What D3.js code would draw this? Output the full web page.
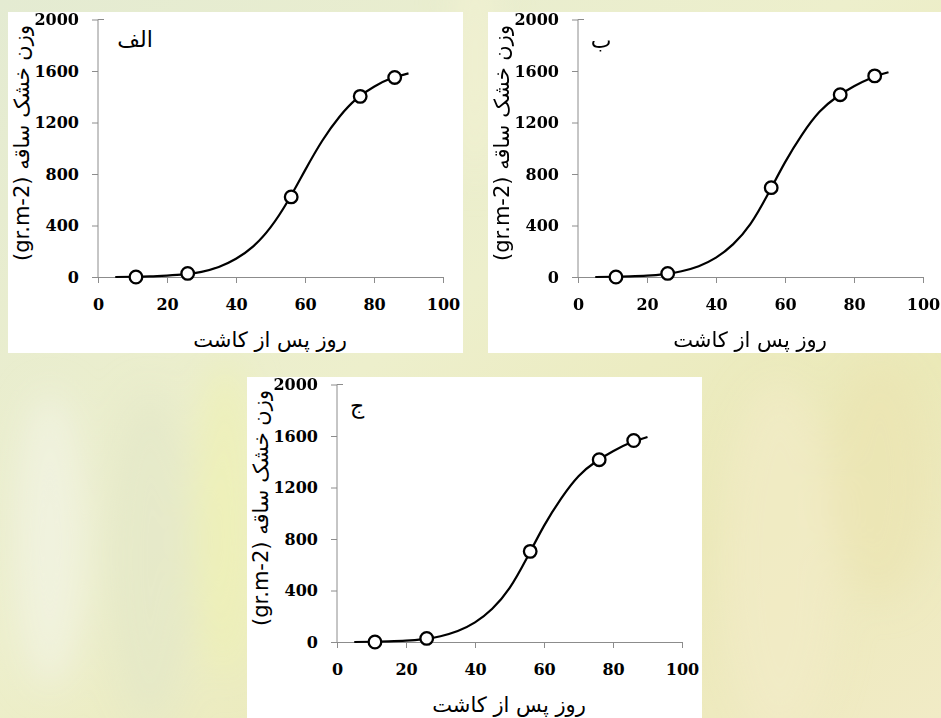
<!DOCTYPE html>
<html>
<head>
<meta charset="utf-8">
<script src="https://cdn.jsdelivr.net/npm/d3@7"></script>
<style>
  body { margin: 0; background: #e9ecca; }
  svg { display: block; }
  .tick text { font-family: "DejaVu Serif", serif; font-weight: bold; font-size: 16px; fill: #000; }
  .axis path, .axis line { stroke: #8c8c8c; }
  .aText { font-family: "DejaVu Sans", sans-serif; font-size: 21px; fill: #000; }
</style>
</head>
<body>
<div id="chart"></div>
<script>
// sampling days (observations)
var days = [11, 26, 56, 76, 86];
// observed stem dry weight (gr.m-2) for each panel
var weightA = [0, 28, 622, 1403, 1550];
var weightB = [0, 28, 694, 1416, 1562];
var weightC = [0, 28, 704, 1416, 1565];

// fitted curve
var curveDays = [5, 10, 15, 20, 25, 30, 35, 40, 45, 50, 55, 60, 65, 70, 75, 80, 85, 90];
var fitA = [0, 2, 5, 11, 20, 40, 78, 142, 238, 385, 588, 828, 1058, 1245, 1385, 1478, 1543, 1582];
var fitB = [0, 2, 5, 10, 22, 45, 84, 150, 255, 412, 640, 890, 1108, 1283, 1398, 1481, 1546, 1590];
var fitC = [0, 2, 5, 10, 22, 45, 85, 152, 258, 418, 650, 902, 1116, 1288, 1400, 1482, 1547, 1592];

var panelNames = ["الف", "ب", "ج"];
var xTicks = [0, 20, 40, 60, 80, 100];
var yTicks = [0, 400, 800, 1200, 1600, 2000];
var xTitle = "روز پس از کاشت";
var yTitle = "وزن خشک ساقه (gr.m-2)";

var width = 941;
var height = 718;

var svg = d3.select("#chart")
  .append("svg")
  .attr("width", width)
  .attr("height", height);

// soft background instead of the photo
var defs = svg.append("defs");
var bg = defs.append("linearGradient").attr("id", "bg")
  .attr("x1", 0).attr("y1", 0).attr("x2", 1).attr("y2", 1);
bg.append("stop").attr("offset", "0%").attr("stop-color", "#e4ebd2");
bg.append("stop").attr("offset", "45%").attr("stop-color", "#edefcc");
bg.append("stop").attr("offset", "75%").attr("stop-color", "#ebe9b8");
bg.append("stop").attr("offset", "100%").attr("stop-color", "#f1ebc6");
defs.append("filter").attr("id", "blur")
  .append("feGaussianBlur").attr("stdDeviation", 18);

svg.append("rect").attr("width", width).attr("height", height).attr("fill", "url(#bg)");

var blobs = svg.append("g").attr("filter", "url(#blur)");
blobs.append("ellipse").attr("cx", 50).attr("cy", 540).attr("rx", 35).attr("ry", 150).attr("fill", "#f2f4e6").attr("opacity", 0.7);
blobs.append("ellipse").attr("cx", 150).attr("cy", 560).attr("rx", 45).attr("ry", 170).attr("fill", "#e2e7c8").attr("opacity", 0.7);
blobs.append("ellipse").attr("cx", 225).attr("cy", 520).attr("rx", 30).attr("ry", 160).attr("fill", "#eef0b4").attr("opacity", 0.8);
blobs.append("ellipse").attr("cx", 780).attr("cy", 560).attr("rx", 60).attr("ry", 180).attr("fill", "#f2ebc8").attr("opacity", 0.7);
blobs.append("ellipse").attr("cx", 880).attr("cy", 480).attr("rx", 50).attr("ry", 120).attr("fill", "#ebe4b2").attr("opacity", 0.7);
blobs.append("ellipse").attr("cx", 475).attr("cy", 60).attr("rx", 20).attr("ry", 120).attr("fill", "#f3f1d2").attr("opacity", 0.8);

var boxW = 455;
var boxH = 341;
var plotLeft = 90;
var plotRight = 435;
var plotTop = 7.5;
var plotBottom = 265;

var panels = [
  { name: panelNames[0], x: 8, y: 12, obs: weightA, fit: fitA, labelX: 127, labelY: 35 },
  { name: panelNames[1], x: 488, y: 12, obs: weightB, fit: fitB, labelX: 113, labelY: 36 },
  { name: panelNames[2], x: 247, y: 377, obs: weightC, fit: fitC, labelX: 110, labelY: 36 }
];

var xScale = d3.scaleLinear().domain([0, 100]).range([plotLeft, plotRight]);
var yScale = d3.scaleLinear().domain([0, 2000]).range([plotBottom, plotTop]);

var line = d3.line()
  .x(function (d) { return xScale(d[0]); })
  .y(function (d) { return yScale(d[1]); })
  .curve(d3.curveNatural);

panels.forEach(function (p) {
  var g = svg.append("g").attr("transform", "translate(" + p.x + "," + p.y + ")");

  g.append("rect")
    .attr("width", boxW)
    .attr("height", boxH)
    .attr("fill", "#fff");

  // x axis
  var xAxis = d3.axisBottom(xScale).tickValues(xTicks).tickFormat(d3.format("d"))
    .tickSize(6).tickPadding(16).tickSizeOuter(0);
  var gx = g.append("g")
    .attr("class", "axis")
    .attr("transform", "translate(0," + plotBottom + ")")
    .call(xAxis);
  gx.selectAll(".tick line").attr("stroke", "#8c8c8c");

  // y axis
  var yAxis = d3.axisLeft(yScale).tickValues(yTicks).tickFormat(d3.format("d"))
    .tickSize(6).tickPadding(13).tickSizeOuter(0);
  var gy = g.append("g")
    .attr("class", "axis")
    .attr("transform", "translate(" + plotLeft + ",0)")
    .call(yAxis);
  gy.selectAll(".tick line").attr("stroke", "#8c8c8c");
  gy.select(".domain").attr("d", "M0," + plotBottom + "V" + plotTop + "H6");

  // fitted curve
  var pts = curveDays.map(function (d, i) { return [d, p.fit[i]]; });
  g.append("path")
    .datum(pts)
    .attr("d", line)
    .attr("fill", "none")
    .attr("stroke", "#000")
    .attr("stroke-width", 2.2);

  // observed points
  g.selectAll("circle")
    .data(days)
    .enter()
    .append("circle")
    .attr("cx", function (d) { return xScale(d); })
    .attr("cy", function (d, i) { return yScale(p.obs[i]); })
    .attr("r", 6.3)
    .attr("fill", "#fff")
    .attr("stroke", "#000")
    .attr("stroke-width", 2.3);

  // panel letter
  g.append("text")
    .attr("class", "aText")
    .attr("x", p.labelX)
    .attr("y", p.labelY)
    .attr("text-anchor", "middle")
    .attr("direction", "rtl")
    .style("font-size", "22px")
    .text(p.name);

  // x title
  g.append("text")
    .attr("class", "aText")
    .attr("x", 262)
    .attr("y", 335)
    .attr("text-anchor", "middle")
    .attr("direction", "rtl")
    .text(xTitle);

  // y title
  g.append("text")
    .attr("class", "aText")
    .attr("text-anchor", "middle")
    .attr("direction", "rtl")
    .attr("transform", "translate(21," + 131 + ") rotate(-90)")
    .text(yTitle);
});
</script>
</body>
</html>
